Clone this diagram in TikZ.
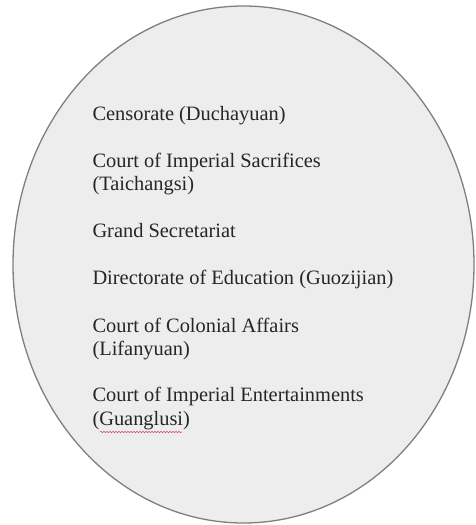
\documentclass[tikz,border=0pt]{standalone}
\usepackage{fontspec}
\setmainfont{Liberation Serif}
\newfontfamily\itemfont{Liberation Serif}
\usetikzlibrary{decorations.pathmorphing}
\definecolor{ovalfill}{HTML}{EDEDED}
\definecolor{ovaledge}{HTML}{7F7F7F}
\definecolor{spell}{HTML}{D9485A}
\begin{document}
\begin{tikzpicture}[x=1pt,y=-1pt,
  oval/.style={fill=ovalfill, draw=ovaledge, line width=1.3pt},
  item/.style={anchor=base west, inner sep=0pt, align=left,
    font=\itemfont\fontsize{20.4}{23.7}\selectfont, text=black!85},
  squig/.style={draw=spell, line width=0.5pt, decorate,
    decoration={snake, amplitude=0.8pt, segment length=3pt}}]
\useasboundingbox (0,0) rectangle (475,525);
\draw[oval] (243.5,264.5) ellipse [x radius=230.5pt, y radius=258.5pt];
\node[item] (t1) at (92.3,120.7) {Censorate (Duchayuan)};
\node[item] (t2) at (92.3,190.7) {Court of Imperial Sacrifices\\(Taichangsi)};
\node[item] (t3) at (92.3,237.3) {Grand Secretariat};
\node[item] (t4) at (92.3,284.3) {Directorate of Education (Guozijian)};
\node[item] (t5) at (92.3,355.7) {Court of Colonial Affairs\\(Lifanyuan)};
\node[item] (t6) at (92.3,425) {Court of Imperial Entertainments\\(Guanglusi)};
\coordinate (g1) at (100,432);
\coordinate (g2) at (182,432);
\draw[squig] (g1) -- (g2);
\end{tikzpicture}
\end{document}
